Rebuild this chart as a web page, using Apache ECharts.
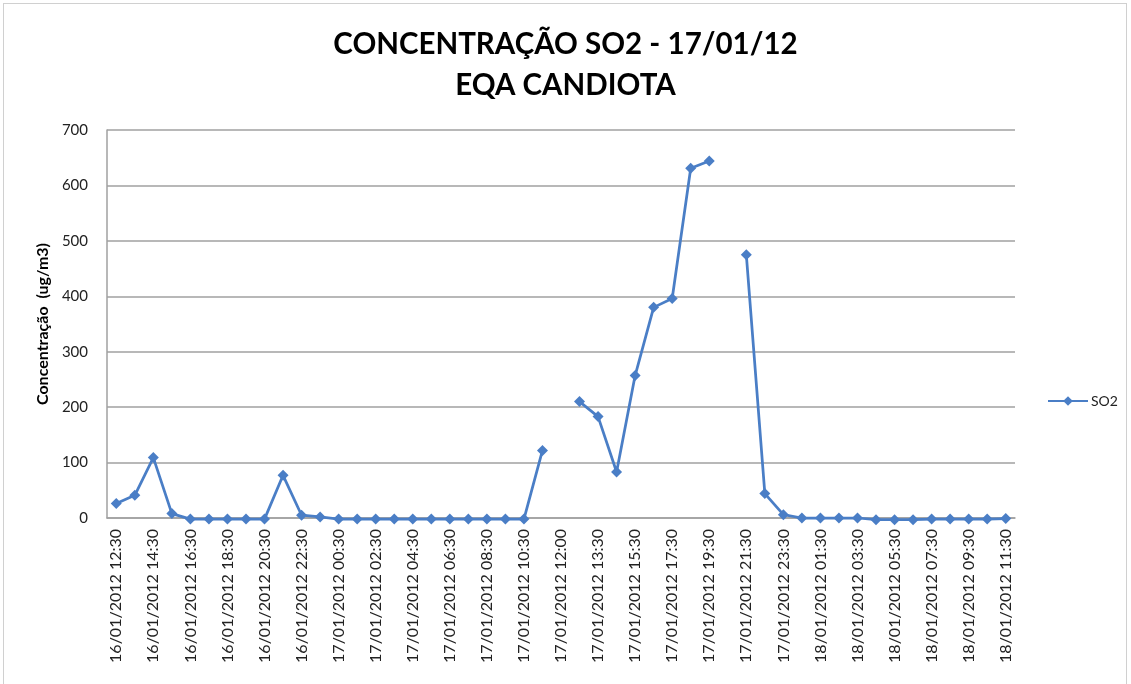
<!DOCTYPE html>
<html>
<head>
<meta charset="utf-8">
<script src="https://cdn.jsdelivr.net/npm/echarts@6/dist/echarts.min.js"></script>
<style>
  html, body { margin: 0; padding: 0; background: #fff; overflow: hidden; }
  #chart { position: absolute; left: 0; top: 0; width: 1131px; height: 684px; }
  #frame { position: absolute; left: 3px; top: 3px; width: 1124px; height: 700px; border: 1px solid #d0d0d0; box-sizing: border-box; pointer-events: none; }
</style>
</head>
<body>
<div id="chart"></div>
<div id="frame"></div>
<script>
// hourly readings, one half-hour entry (12:00) on the 17th
const days = ['16/01/2012', '17/01/2012', '18/01/2012']
const hours16 = ['12:30','13:30','14:30','15:30','16:30','17:30','18:30','19:30','20:30','21:30','22:30','23:30']
const hours17 = ['00:30','01:30','02:30','03:30','04:30','05:30','06:30','07:30','08:30','09:30','10:30','11:30','12:00','12:30','13:30','14:30','15:30','16:30','17:30','18:30','19:30','20:30','21:30','22:30','23:30']
const hours18 = ['00:30','01:30','02:30','03:30','04:30','05:30','06:30','07:30','08:30','09:30','10:30','11:30']

const categories = []
hours16.forEach(h => categories.push(days[0] + ' ' + h))
hours17.forEach(h => categories.push(days[1] + ' ' + h))
hours18.forEach(h => categories.push(days[2] + ' ' + h))

// SO2 (ug/m3), null = no reading
const so2 = [
  26, 41, 109, 8, -2, -2, -2, -2, -2, 77, 5, 2,
  -2, -2, -2, -2, -2, -2, -2, -2, -2, -2, -2, 122, null, 210, 183, 83, 257, 380, 396, 631, 644, null, 475, 44, 6,
  0, 0, 0, 0, -3, -3, -3, -2, -2, -2, -2, -1
]

const yTicks = { min: 0, max: 700, interval: 100 }

var myChart = echarts.init(document.getElementById('chart'))

const option = {
  animation: false,
  backgroundColor: '#fff',
  title: {
    text: 'CONCENTRAÇÃO SO2 - 17/01/12\nEQA CANDIOTA',
    left: 'center',
    top: 19,
    padding: [5, 0, 5, 10],
    textStyle: {
      fontFamily: 'Lato',
      fontWeight: 'bold',
      fontSize: 29.5,
      lineHeight: 41,
      color: '#000'
    }
  },
  legend: {
    orient: 'vertical',
    left: 1042,
    top: 389,
    itemWidth: 40,
    itemHeight: 12,
    itemGap: 4,
    textStyle: { fontFamily: 'Lato', fontSize: 14, color: '#222', padding: [0, 0, 0, -2] },
    data: ['SO2']
  },
  grid: {
    left: 107,
    right: 116,
    top: 130,
    bottom: 166,
    containLabel: false
  },
  xAxis: {
    type: 'category',
    data: categories,
    boundaryGap: true,
    axisLine: { lineStyle: { color: '#a0a0a0', width: 1.5 } },
    axisTick: { show: false },
    axisLabel: {
      interval: 1,
      rotate: 90,
      margin: 11,
      fontFamily: 'Lato',
      fontSize: 16,
      color: '#222'
    }
  },
  yAxis: {
    type: 'value',
    min: yTicks.min,
    max: yTicks.max,
    interval: yTicks.interval,
    name: 'Concentração  (ug/m3)',
    nameLocation: 'middle',
    nameGap: 56,
    nameRotate: 90,
    nameTextStyle: { fontFamily: 'Lato', fontWeight: 'bold', fontSize: 16, color: '#000' },
    axisLine: { show: true, lineStyle: { color: '#a0a0a0', width: 1.5 } },
    axisTick: { show: false },
    splitLine: { lineStyle: { color: '#a0a0a0', width: 1.5 } },
    axisLabel: { fontFamily: 'Lato', fontSize: 15, color: '#222', margin: 19 }
  },
  series: [{
    name: 'SO2',
    type: 'line',
    data: so2,
    connectNulls: false,
    clip: false,
    symbol: 'diamond',
    symbolSize: 11,
    showAllSymbol: true,
    itemStyle: { color: '#4a7ec6' },
    lineStyle: { color: '#4a7ec6', width: 2.75 }
  }]
}

myChart.setOption(option)
</script>
</body>
</html>
